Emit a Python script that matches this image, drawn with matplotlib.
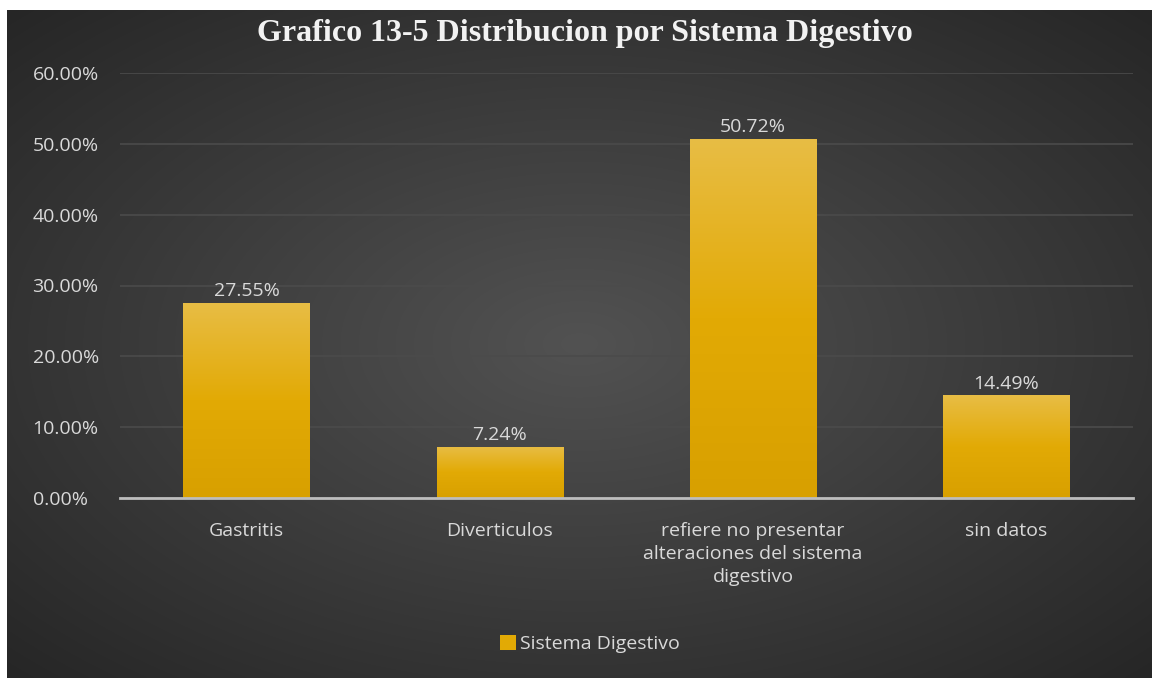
import numpy as np
import matplotlib
matplotlib.use("Agg")
import matplotlib.pyplot as plt
from matplotlib.colors import LinearSegmentedColormap
from matplotlib.patches import Patch

categories = ["Gastritis", "Diverticulos",
              "refiere no presentar\nalteraciones del sistema\ndigestivo", "sin datos"]
values = [0.2755, 0.0724, 0.5072, 0.1449]
value_labels = ["27.55%", "7.24%", "50.72%", "14.49%"]
yticks = [0.0, 0.1, 0.2, 0.3, 0.4, 0.5, 0.6]
ytick_labels = ["0.00%", "10.00%", "20.00%", "30.00%", "40.00%", "50.00%", "60.00%"]
title = "Grafico 13-5 Distribucion por Sistema Digestivo"
series_name = "Sistema Digestivo"

W, H = 1154, 678
fig = plt.figure(figsize=(W / 100, H / 100), dpi=100)
fig.patch.set_facecolor("white")

# background with radial gradient
bx0, by0, bx1, by1 = 7, 0, 1152, 668
bg = fig.add_axes([bx0 / W, by0 / H, (bx1 - bx0) / W, (by1 - by0) / H])
bg.set_axis_off()
yy, xx = np.mgrid[-1:1:400j, -1:1:700j]
r = np.sqrt(xx ** 2 + yy ** 2) / np.sqrt(2)
center = np.array([0x52, 0x52, 0x52]) / 255
edge = np.array([0x26, 0x26, 0x26]) / 255
img = center[None, None, :] * (1 - r[..., None]) + edge[None, None, :] * r[..., None]
bg.imshow(img, extent=[0, 1, 0, 1], aspect="auto", interpolation="bilinear")
bg.set_xlim(0, 1)
bg.set_ylim(0, 1)

ax = fig.add_axes([120 / W, 1 - 498 / H, (1133 - 120) / W, (498 - 73) / H])
ax.patch.set_alpha(0)
x = np.arange(len(categories))
bars = ax.bar(x, values, width=0.5, color="#e0a800", zorder=3)

cmap = LinearSegmentedColormap.from_list("gold", ["#d8a000", "#e2aa05", "#e8bd45"])
grad = np.linspace(0, 1, 256).reshape(-1, 1)
for b in bars:
    bx, bw, bh = b.get_x(), b.get_width(), b.get_height()
    im = ax.imshow(grad, extent=[bx, bx + bw, 0, bh], origin="lower", cmap=cmap,
                   aspect="auto", zorder=4)
    im.set_clip_path(b)

FS = 14
ax.set_xlim(-0.5, len(categories) - 0.5)
ax.set_ylim(0, 0.6)
ax.set_yticks(yticks)
ax.set_yticklabels(ytick_labels)
ax.set_xticks(x)
ax.set_xticklabels(categories, linespacing=1.36)
ax.tick_params(axis="both", length=0, colors="#d9d9d9", labelsize=FS)
ax.tick_params(axis="y", pad=63)
ax.tick_params(axis="x", pad=17)
for lab in ax.get_yticklabels() + ax.get_xticklabels():
    lab.set_fontfamily("Open Sans")
for lab in ax.get_yticklabels():
    lab.set_horizontalalignment("left")
ax.grid(axis="y", color="#4b4b4b", linewidth=1.2, zorder=0)
for s in ["top", "right", "left"]:
    ax.spines[s].set_visible(False)
ax.spines["bottom"].set_color("#bdbdbd")
ax.spines["bottom"].set_linewidth(2)
ax.spines["bottom"].set_zorder(5)

for xi, v, lbl in zip(x, values, value_labels):
    ax.annotate(lbl, (xi, v), xytext=(0, 2), textcoords="offset points",
                ha="center", va="bottom", color="#d9d9d9", fontsize=FS,
                fontfamily="Open Sans")

fig.text(585 / W, 1 - 34 / H, title, ha="center", va="center", color="#f2f2f2",
         fontsize=23, fontweight="bold", fontfamily="Liberation Serif")

leg = fig.legend(handles=[Patch(facecolor="#e2aa05", edgecolor="none")],
                 labels=[series_name], loc="center", bbox_to_anchor=(590 / W, 1 - 644 / H),
                 frameon=False, handlelength=0.85, handleheight=0.85, handletextpad=0.2,
                 prop={"family": "Open Sans", "size": FS})
for t in leg.get_texts():
    t.set_color("#d9d9d9")

fig.savefig("out.png", dpi=100, facecolor=fig.get_facecolor())
